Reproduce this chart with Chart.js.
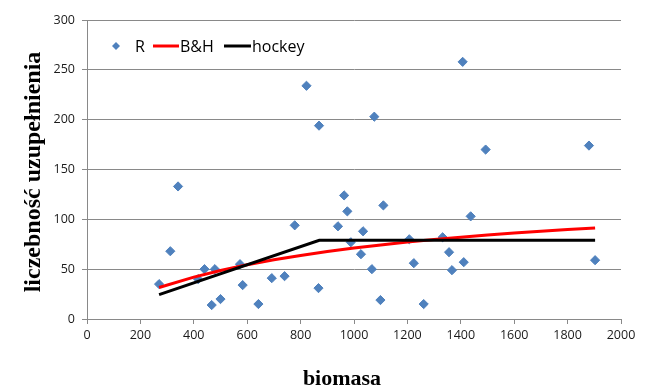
<!DOCTYPE html>
<html>
<head>
<meta charset="utf-8">
<script src="https://cdn.jsdelivr.net/npm/chart.js@4.4.0/dist/chart.umd.min.js"></script>
<style>
  html, body { margin: 0; padding: 0; background: #ffffff; }
  #wrap { width: 648px; height: 387px; }
</style>
</head>
<body>
<div id="wrap"><canvas id="chart" width="648" height="387"></canvas></div>
<script>
// Observed stock biomass and recruitment (R)
const biomass = [270, 312, 341, 416, 440, 467, 479, 500, 573, 583, 642, 692, 740, 778, 822, 867, 869,
                 940, 963, 975, 988, 1026, 1034, 1067, 1076, 1099, 1110, 1207, 1224, 1261, 1332, 1356,
                 1367, 1407, 1411, 1437, 1493, 1880, 1903];
const recruits = [35, 68, 133, 40, 50, 14, 50, 20, 55, 34, 15, 41, 43, 94, 234, 31, 194,
                  93, 124, 108, 77, 65, 88, 50, 203, 19, 114, 80, 56, 15, 82, 67,
                  49, 258, 57, 103, 170, 174, 59];

// Beverton-Holt fitted curve
const bhBiomass = [270, 400, 500, 600, 700, 800, 900, 1000, 1100, 1200, 1300, 1400, 1500, 1600, 1700, 1800, 1903];
const bhRecruits = [31.6, 42.0, 48.6, 54.4, 59.4, 63.8, 67.7, 71.2, 74.3, 77.2, 79.7, 82.1, 84.2, 86.2, 88.0, 89.7, 91.3];

// Hockey-stick fitted line
const hockeyBiomass = [270, 870, 1903];
const hockeyRecruits = [24.5, 79, 79];

// Axis ticks and titles
const xTickValues = [0, 200, 400, 600, 800, 1000, 1200, 1400, 1600, 1800, 2000];
const yTickValues = [0, 50, 100, 150, 200, 250, 300];
const xTitle = 'biomasa';
const yTitle = 'liczebność uzupełnienia';
const legendLabels = ['R', 'B&H', 'hockey'];

const seriesColors = ['#4F81BD', '#FF0000', '#000000'];
const gridColor = '#898989';
const tickFont = { family: "'Open Sans', sans-serif", size: 12.5 };

const toPoints = (xs, ys) => xs.map((x, i) => ({ x: x, y: ys[i] }));

// Axis titles and the in-plot legend
const decorations = {
  id: 'decorations',
  afterDraw(chart) {
    const ctx = chart.ctx;
    ctx.save();
    ctx.fillStyle = '#000000';
    ctx.textAlign = 'center';
    ctx.textBaseline = 'alphabetic';
    ctx.font = 'bold 22px "Liberation Serif", "Times New Roman", serif';
    ctx.fillText(xTitle, 342, 385);
    ctx.save();
    ctx.font = 'bold 24px "Liberation Serif", "Times New Roman", serif';
    ctx.translate(40, 172);
    ctx.rotate(-Math.PI / 2);
    ctx.fillText(yTitle, 0, 0);
    ctx.restore();

    // legend
    const ly = 46;
    ctx.font = "16px 'Open Sans', sans-serif";
    ctx.textAlign = 'left';
    ctx.textBaseline = 'middle';
    ctx.fillStyle = seriesColors[0];
    ctx.beginPath();
    ctx.moveTo(116, ly - 4);
    ctx.lineTo(120, ly);
    ctx.lineTo(116, ly + 4);
    ctx.lineTo(112, ly);
    ctx.closePath();
    ctx.fill();
    ctx.fillStyle = '#000000';
    ctx.fillText(legendLabels[0], 135, ly + 1);

    ctx.lineWidth = 3;
    ctx.strokeStyle = seriesColors[1];
    ctx.beginPath(); ctx.moveTo(153, ly); ctx.lineTo(179, ly); ctx.stroke();
    ctx.fillText(legendLabels[1], 180, ly + 1);

    ctx.strokeStyle = seriesColors[2];
    ctx.beginPath(); ctx.moveTo(224, ly); ctx.lineTo(251, ly); ctx.stroke();
    ctx.fillText(legendLabels[2], 252, ly + 1);
    ctx.restore();
  }
};

new Chart(document.getElementById('chart'), {
  type: 'scatter',
  data: {
    datasets: [
      {
        label: legendLabels[0],
        data: toPoints(biomass, recruits),
        pointStyle: 'rectRot',
        pointRadius: 4.6,
        pointBackgroundColor: seriesColors[0],
        pointBorderColor: seriesColors[0],
        pointBorderWidth: 1,
        showLine: false,
        order: 3
      },
      {
        label: legendLabels[1],
        data: toPoints(bhBiomass, bhRecruits),
        showLine: true,
        borderColor: seriesColors[1],
        borderWidth: 3,
        pointRadius: 0,
        fill: false,
        order: 2
      },
      {
        label: legendLabels[2],
        data: toPoints(hockeyBiomass, hockeyRecruits),
        showLine: true,
        borderColor: seriesColors[2],
        borderWidth: 3,
        pointRadius: 0,
        fill: false,
        order: 1
      }
    ]
  },
  options: {
    responsive: false,
    animation: false,
    events: [],
    layout: { padding: { top: 20, right: 27, bottom: 0, left: 0 } },
    plugins: { legend: { display: false }, tooltip: { enabled: false } },
    scales: {
      x: {
        type: 'linear',
        min: 0,
        max: 2000,
        afterBuildTicks: s => { s.ticks = xTickValues.map(v => ({ value: v })); },
        afterFit: s => { s.height = 68; },
        grid: { drawOnChartArea: false, drawTicks: true, tickLength: 5, color: gridColor },
        border: { color: gridColor, width: 1 },
        ticks: { font: tickFont, color: '#1a1a1a', padding: 4, maxRotation: 0, callback: v => String(v) }
      },
      y: {
        type: 'linear',
        min: 0,
        max: 300,
        afterBuildTicks: s => { s.ticks = yTickValues.map(v => ({ value: v })); },
        afterFit: s => { s.width = 87; },
        grid: { drawTicks: true, tickLength: 5, color: gridColor },
        border: { color: gridColor, width: 1 },
        ticks: { font: tickFont, color: '#1a1a1a', padding: 7, callback: v => String(v) }
      }
    }
  },
  plugins: [decorations]
});
</script>
</body>
</html>
